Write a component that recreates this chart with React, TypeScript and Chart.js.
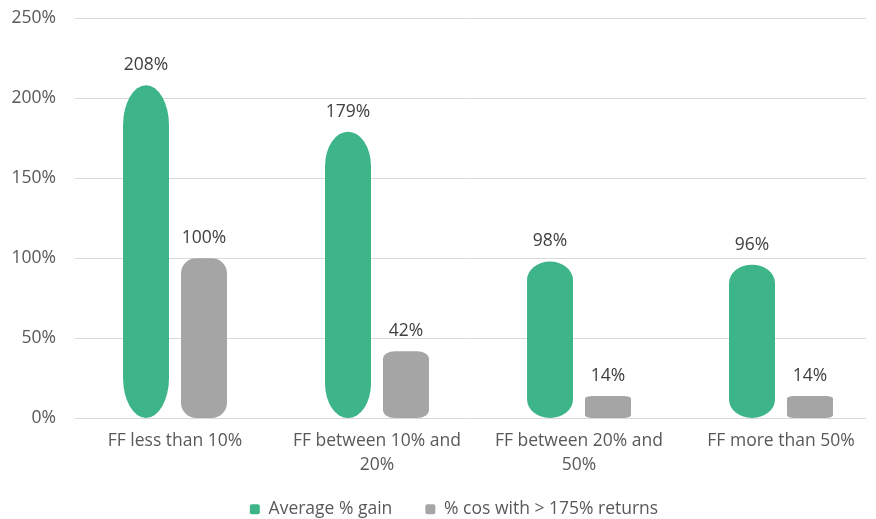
import React, { useEffect, useRef } from "react";
import { Chart, registerables } from "chart.js";

Chart.register(...registerables);

const categories: string[][] = [
  ["FF less than 10%"],
  ["FF between 10% and", "20%"],
  ["FF between 20% and", "50%"],
  ["FF more than 50%"],
];
const avgGain = [208, 179, 98, 96];
const cosAbove175 = [100, 42, 14, 14];
const seriesNames = ["Average % gain", "% cos with > 175% returns"];
const yMin = 0;
const yMax = 250;
const yStep = 50;

const GREEN = "#3EB489";
const GRAY = "#A5A5A5";
const FONT = "'Open Sans', 'Noto Sans', sans-serif";
const FS = 17.5;

function pillPath(ctx: CanvasRenderingContext2D, left: number, top: number, right: number, bottom: number, rx: number, ry: number) {
  ctx.beginPath();
  ctx.moveTo(left + rx, top);
  ctx.lineTo(right - rx, top);
  ctx.ellipse(right - rx, top + ry, rx, ry, 0, -Math.PI / 2, 0);
  ctx.lineTo(right, bottom - ry);
  ctx.ellipse(right - rx, bottom - ry, rx, ry, 0, 0, Math.PI / 2);
  ctx.lineTo(left + rx, bottom);
  ctx.ellipse(left + rx, bottom - ry, rx, ry, 0, Math.PI / 2, Math.PI);
  ctx.lineTo(left, top + ry);
  ctx.ellipse(left + rx, top + ry, rx, ry, 0, Math.PI, Math.PI * 1.5);
  ctx.closePath();
}

const pillBars = {
  id: "pillBars",
  afterLayout(chart: any) {
    const x = chart.scales.x;
    if (x) {
      // category band slightly wider than the gridlines, as in the original
      x.left = chart.chartArea.left - 1;
      x.right = chart.chartArea.right + 16;
      x.width = x.right - x.left;
      // let the two-line category labels extend below the axis box without being clipped
      x.bottom = x.bottom + 40;
      x.configure();
    }
    const lg = chart.legend;
    if (lg) {
      lg.left += 21;
      lg.right += 21;
    }
  },
  beforeDatasetDraw(chart: any, args: any) {
    const ctx: CanvasRenderingContext2D = chart.ctx;
    const meta = args.meta;
    const ds = chart.data.datasets[args.index];
    ctx.save();
    ctx.fillStyle = ds.backgroundColor;
    meta.data.forEach((el: any) => {
      const w = el.width;
      const left = el.x - w / 2;
      const right = el.x + w / 2;
      const top = Math.min(el.y, el.base);
      const bottom = Math.max(el.y, el.base);
      const h = bottom - top;
      let rx: number, ry: number;
      if (args.index === 0) {
        rx = w / 2;
        ry = Math.min(h * 0.12, h / 2);
      } else {
        rx = Math.min(w * 0.33, 5 + h * 0.1);
        ry = Math.min(rx, h * 0.12);
      }
      pillPath(ctx, left, top, right, bottom, rx, ry);
      ctx.fill();
    });
    ctx.restore();
    return false;
  },
  afterDatasetsDraw(chart: any) {
    const ctx: CanvasRenderingContext2D = chart.ctx;
    ctx.save();
    ctx.font = `${FS}px ${FONT}`;
    ctx.fillStyle = "#404040";
    ctx.textAlign = "center";
    ctx.textBaseline = "middle";
    chart.data.datasets.forEach((ds: any, i: number) => {
      const meta = chart.getDatasetMeta(i);
      meta.data.forEach((el: any, j: number) => {
        ctx.fillText(`${ds.data[j]}%`, el.x, el.y - 20);
      });
    });
    ctx.restore();
  },
};

export default function App() {
  const ref = useRef<HTMLCanvasElement | null>(null);
  useEffect(() => {
    document.body.style.margin = "0";
    const chart = new Chart(ref.current as HTMLCanvasElement, {
      type: "bar",
      data: {
        labels: categories,
        datasets: [
          { label: seriesNames[0], data: avgGain, backgroundColor: GREEN, borderWidth: 0 },
          { label: seriesNames[1], data: cosAbove175, backgroundColor: GRAY, borderWidth: 0 },
        ],
      },
      options: {
        animation: false,
        responsive: false,
        maintainAspectRatio: false,
        datasets: { bar: { categoryPercentage: 0.574, barPercentage: 0.793 } },
        layout: { padding: { left: 0, right: 10, top: 18, bottom: -9 } },
        scales: {
          x: {
            grid: { display: false },
            border: { display: false },
            ticks: {
              color: "#595959",
              font: { family: FONT, size: FS, lineHeight: 24 / FS },
              padding: 3,
              maxRotation: 0,
              autoSkip: false,
            },
            afterFit: (s: any) => {
              s.height = 49;
            },
          },
          y: {
            min: yMin,
            max: yMax,
            grid: { color: "#D9D9D9", lineWidth: 1, drawTicks: false },
            border: { display: false },
            ticks: {
              stepSize: yStep,
              color: "#595959",
              font: { family: FONT, size: FS },
              padding: 19,
              callback: (v: any) => `${v}%`,
            },
            afterFit: (s: any) => {
              s.width = 75;
              s.paddingTop = 0;
              s.paddingBottom = 0;
            },
          },
        },
        plugins: {
          tooltip: { enabled: false },
          legend: {
            position: "bottom",
            labels: {
              color: "#595959",
              font: { family: FONT, size: FS },
              boxWidth: 10,
              boxHeight: 10,
              useBorderRadius: true,
              borderRadius: 2,
              padding: 33,
            },
          },
        },
      },
      plugins: [pillBars],
    });
    return () => chart.destroy();
  }, []);
  return (
    <div style={{ width: 876, height: 519 }}>
      <canvas ref={ref} width={876} height={519} style={{ width: 876, height: 519, display: "block" }} />
    </div>
  );
}
